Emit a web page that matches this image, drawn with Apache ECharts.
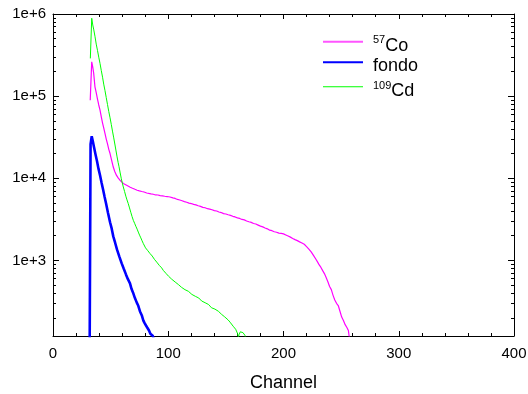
<!DOCTYPE html>
<html><head><meta charset="utf-8">
<script src="https://cdn.jsdelivr.net/npm/echarts@6/dist/echarts.min.js"></script>
<style>html,body{margin:0;padding:0;background:#fff}#c{width:528px;height:394px}</style>
</head><body><div id="c"></div>
<script>
// 57Co spectrum
const coChannel = [32.3,33.6,34.5,35.3,36.4,37.5,38.6,39.7,40.8,42.0,43.0,44.1,45.1,46.2,47.3,48.4,49.5,51.0,52.3,53.6,55.0,56.5,58.1,59.6,61.0,62.5,63.9,65.5,67.0,69.0,71.1,73.0,75.0,77.0,79.0,81.3,83.0,85.0,87.0,89.0,91.0,93.0,95.0,97.0,99.0,101.5,104.0,106.0,108.0,110.0,112.0,114.0,116.0,118.0,120.0,122.0,124.0,126.0,128.0,130.0,132.0,134.0,136.0,138.0,140.0,142.0,144.0,146.0,148.0,150.0,152.0,154.0,156.0,158.0,160.0,162.0,164.0,166.0,168.0,170.0,172.0,174.0,176.0,178.0,180.0,182.0,184.0,186.0,188.0,190.0,192.0,194.0,196.0,198.0,200.0,202.0,204.0,206.0,208.0,210.0,212.0,214.0,216.0,218.0,220.0,222.0,224.0,226.0,228.0,229.5,231.0,232.5,234.0,235.5,237.0,238.5,240.0,241.5,243.0,244.5,246.0,247.5,249.0,250.5,252.0,253.5,255.0,256.3,257.3,258.0];
const coCounts = [89000,262000,225000,190000,130000,110000,92000,78000,67500,55000,47000,40500,35100,30000,26200,22500,20000,16300,13700,12100,10900,10100,9460,9000,8650,8400,8220,7950,7780,7560,7340,7150,7020,6900,6800,6620,6560,6450,6380,6260,6250,6150,6110,6040,5990,5910,5760,5680,5520,5430,5320,5200,5100,4980,4920,4800,4740,4620,4540,4420,4370,4260,4210,4130,4040,3990,3880,3820,3710,3670,3590,3530,3440,3380,3290,3240,3150,3110,3020,2950,2900,2810,2770,2690,2610,2560,2480,2420,2330,2300,2230,2200,2150,2130,2100,2040,1980,1920,1850,1790,1740,1680,1630,1570,1470,1370,1270,1150,1040,960,880,820,750,690,620,550,480,440,375,330,300,282,240,204,185,165,152,140,110,90];

// background (fondo)
const bgChannel = [31.6,32.6,33.6,34.6,35.6,36.9,38.2,39.5,40.8,42.1,43.4,44.7,46.0,47.7,49.5,50.9,52.3,53.9,55.5,57.5,59.6,61.4,63.3,65.0,66.8,68.1,69.4,71.0,72.6,74.0,75.5,77.0,78.4,79.5,80.7,82.0,83.3,84.5,85.5,86.5,87.5];
const bgCounts = [20,26000,32500,28000,23900,19500,16100,13000,10900,8900,7350,6000,4960,3800,2910,2450,1960,1640,1360,1120,919,790,675,590,525,450,407,350,308,280,239,215,185,172,161,150,140,128,132,121,110];

// 109Cd spectrum
const cdChannel = [32.4,33.6,34.5,35.4,36.4,37.5,38.6,39.7,40.8,41.9,43.0,44.0,45.1,46.2,47.3,48.4,49.5,50.6,51.6,52.7,53.8,54.7,55.6,56.5,57.3,58.3,59.2,60.1,61.0,62.1,63.2,64.2,65.3,66.4,67.5,68.6,69.7,70.8,71.9,73.0,74.0,75.1,76.2,77.3,78.4,79.4,80.3,81.3,82.3,83.2,84.2,85.2,86.1,87.0,88.0,89.0,90.0,91.1,92.2,93.3,94.3,95.7,96.8,98.0,99.2,100.3,101.5,103.0,104.5,106.0,107.5,109.0,110.2,111.5,113.0,114.5,116.0,117.5,118.9,120.5,122.0,123.5,125.0,126.5,127.5,129.0,130.5,132.0,133.5,135.0,136.2,137.5,139.0,140.5,142.0,143.5,144.9,146.3,147.5,149.0,150.5,152.0,153.6,155.0,156.3,157.5,158.5,159.4,160.2,160.8,161.5,162.5,163.7,164.8,165.8,166.6,167.5];
const cdCounts = [288000,887000,735000,640000,536000,430000,360000,298000,250000,205000,170000,140000,117000,96000,79000,65000,54400,45000,37500,31000,25400,21500,18200,15600,13800,11600,10000,8800,7830,6900,6050,5450,4910,4350,3850,3420,3070,2830,2600,2400,2210,2030,1880,1730,1600,1530,1420,1390,1310,1250,1210,1150,1130,1100,1030,1000,953,920,870,850,810,755,740,695,680,640,626,590,575,545,535,505,495,470,465,440,435,420,410,385,392,365,360,348,341,320,328,305,300,290,283,265,272,255,248,240,234,220,226,205,198,188,177,168,158,162,145,140,128,116,125,135,140,132,130,122,100];

const seriesNames = ['57Co', 'fondo', '109Cd'];
const yMajorTicks = [1000, 10000, 100000, 1000000];
const yMinorTicks = [200,300,400,500,600,700,800,900,2000,3000,4000,5000,6000,7000,8000,9000,20000,30000,40000,50000,60000,70000,80000,90000,200000,300000,400000,500000,600000,700000,800000,900000];

const FONT = 'Liberation Sans';
function pairs(xs, ys) { return xs.map((x, i) => [x, ys[i]]); }

const chart = echarts.init(document.getElementById('c'), null, {renderer: 'canvas'});

function xAx(pos, labels) {
  return {
    type: 'value', position: pos, min: 0, max: 400, interval: 100,
    name: labels ? 'Channel' : '', nameLocation: 'middle', nameGap: 38,
    nameTextStyle: {fontFamily: FONT, fontSize: 18, color: '#000'},
    axisLine: {show: true, lineStyle: {color: '#000', width: 1}},
    axisTick: {show: true, inside: true, length: 5, lineStyle: {color: '#000'}},
    minorTick: {show: true, splitNumber: 5, length: 3, lineStyle: {color: '#000'}},
    axisLabel: {show: labels, fontFamily: FONT, fontSize: 15, color: '#000', margin: 10},
    splitLine: {show: false}, minorSplitLine: {show: false}
  };
}
function yAx(pos, ticks, len, labels, line) {
  return {
    type: 'log', logBase: 10, position: pos, min: 120, max: 1000000,
    axisLine: {show: line, lineStyle: {color: '#000', width: 1}},
    axisTick: {show: true, inside: true, length: len, customValues: ticks, lineStyle: {color: '#000'}},
    axisLabel: {show: labels, customValues: yMajorTicks, fontFamily: FONT, fontSize: 15, color: '#000', margin: 7,
      formatter: v => '1e+' + Math.round(Math.log10(v))},
    splitLine: {show: false}
  };
}
function leg(name, top, thick, color) {
  return {
    data: [{name: name, icon: 'path://M0,0H40V' + thick + 'H0Z M0,9.95H0.05V10H0Z', itemStyle: {color: color}}],
    orient: 'vertical', left: 323, top: top, padding: 0,
    itemWidth: 40, itemHeight: 10,
    selectedMode: false,
    textStyle: {fontFamily: FONT, fontSize: 18, color: '#000', padding: [0, 0, 0, 5],
      rich: {
        sup: {fontFamily: FONT, fontSize: 11, verticalAlign: 'top', lineHeight: 11, color: '#000'},
        t: {fontFamily: FONT, fontSize: 18, lineHeight: 22, color: '#000'}
      }},
    formatter: n => n === '57Co' ? '{sup|57}{t|Co}' : (n === '109Cd' ? '{sup|109}{t|Cd}' : '{t|fondo}')
  };
}

chart.setOption({
  animation: false,
  backgroundColor: '#fff',
  grid: {left: 53, right: 14, top: 14, bottom: 58, outerBoundsMode: 'none', containLabel: false},
  xAxis: [xAx('bottom', true), xAx('top', false)],
  yAxis: [
    yAx('left', yMajorTicks, 6, true, true),
    yAx('left', yMinorTicks, 3, false, false),
    yAx('right', yMajorTicks, 6, false, true),
    yAx('right', yMinorTicks, 3, false, false)
  ],
  legend: [leg(seriesNames[0], 34.7, 2, '#ff55ff'), leg(seriesNames[1], 57.3, 2, '#0000ff'), leg(seriesNames[2], 80.3, 1, '#00ff00')],
  series: [
    {name: seriesNames[0], type: 'line', data: pairs(coChannel, coCounts), symbol: 'none', showSymbol: false,
      lineStyle: {color: '#ff00ff', width: 1.2}, itemStyle: {color: '#ff00ff'}, clip: true},
    {name: seriesNames[1], type: 'line', data: pairs(bgChannel, bgCounts), symbol: 'none', showSymbol: false,
      lineStyle: {color: '#0000ff', width: 2.6}, itemStyle: {color: '#0000ff'}, clip: true},
    {name: seriesNames[2], type: 'line', data: pairs(cdChannel, cdCounts), symbol: 'none', showSymbol: false,
      lineStyle: {color: '#00ff00', width: 1}, itemStyle: {color: '#00ff00'}, clip: true}
  ]
});
</script>
</body></html>
